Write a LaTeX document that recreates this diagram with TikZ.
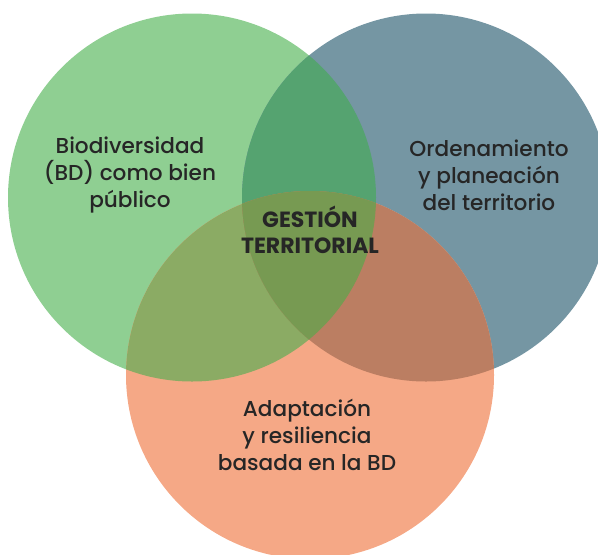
\documentclass[tikz,border=0pt]{standalone}
\usepackage{fontspec}
\setmainfont{Poppins}[UprightFont={* Medium},BoldFont={* Bold}]
\begin{document}
\begin{tikzpicture}[x=0.75pt,y=-0.75pt,
  lbl/.style={align=center,text=black!85,font=\fontsize{16.2}{20.2}\selectfont,inner sep=0pt},
  ctr/.style={align=center,text=black!85,font=\fontsize{16.5}{19.5}\selectfont\bfseries,inner sep=0pt}]
\definecolor{cgreen}{HTML}{8FCF92}
\definecolor{cblue}{HTML}{7596A3}
\definecolor{corange}{HTML}{F5A886}
\definecolor{cgb}{HTML}{55A370}
\definecolor{cgo}{HTML}{8BAB64}
\definecolor{cbo}{HTML}{BB7E62}
\definecolor{cgbo}{HTML}{779A52}
\useasboundingbox (0,0) rectangle (598,554);
\clip (0,0) rectangle (598,554);
\coordinate (G) at (192,197.5);
\coordinate (B) at (426,197.5);
\coordinate (O) at (310,375);
\fill[cgreen] (G) circle[radius=138pt];
\fill[cblue] (B) circle[radius=138pt];
\fill[corange] (O) circle[radius=138pt];
\begin{scope}
  \clip (G) circle[radius=138pt];
  \fill[cgb] (B) circle[radius=138pt];
  \fill[cgo] (O) circle[radius=138pt];
  \clip (B) circle[radius=138pt];
  \fill[cgbo] (O) circle[radius=138pt];
\end{scope}
\begin{scope}
  \clip (B) circle[radius=138pt];
  \clip (O) circle[radius=138pt];
  \fill[cbo] (G) +(-200,-200) rectangle +(400,400);
  \clip (G) circle[radius=138pt];
  \fill[cgbo] (G) +(-200,-200) rectangle +(400,400);
\end{scope}
\node[lbl] (tg) at (130,175) {Biodiversidad\\(BD) como bien\\público};
\node[lbl] (tb) at (489,175) {Ordenamiento\\y planeación\\del territorio};
\node[lbl] (to) at (307,435) {Adaptación\\y resiliencia\\basada en la BD};
\node[ctr] (tc) at (310,230) {GESTIÓN\\TERRITORIAL};
\end{tikzpicture}
\end{document}
